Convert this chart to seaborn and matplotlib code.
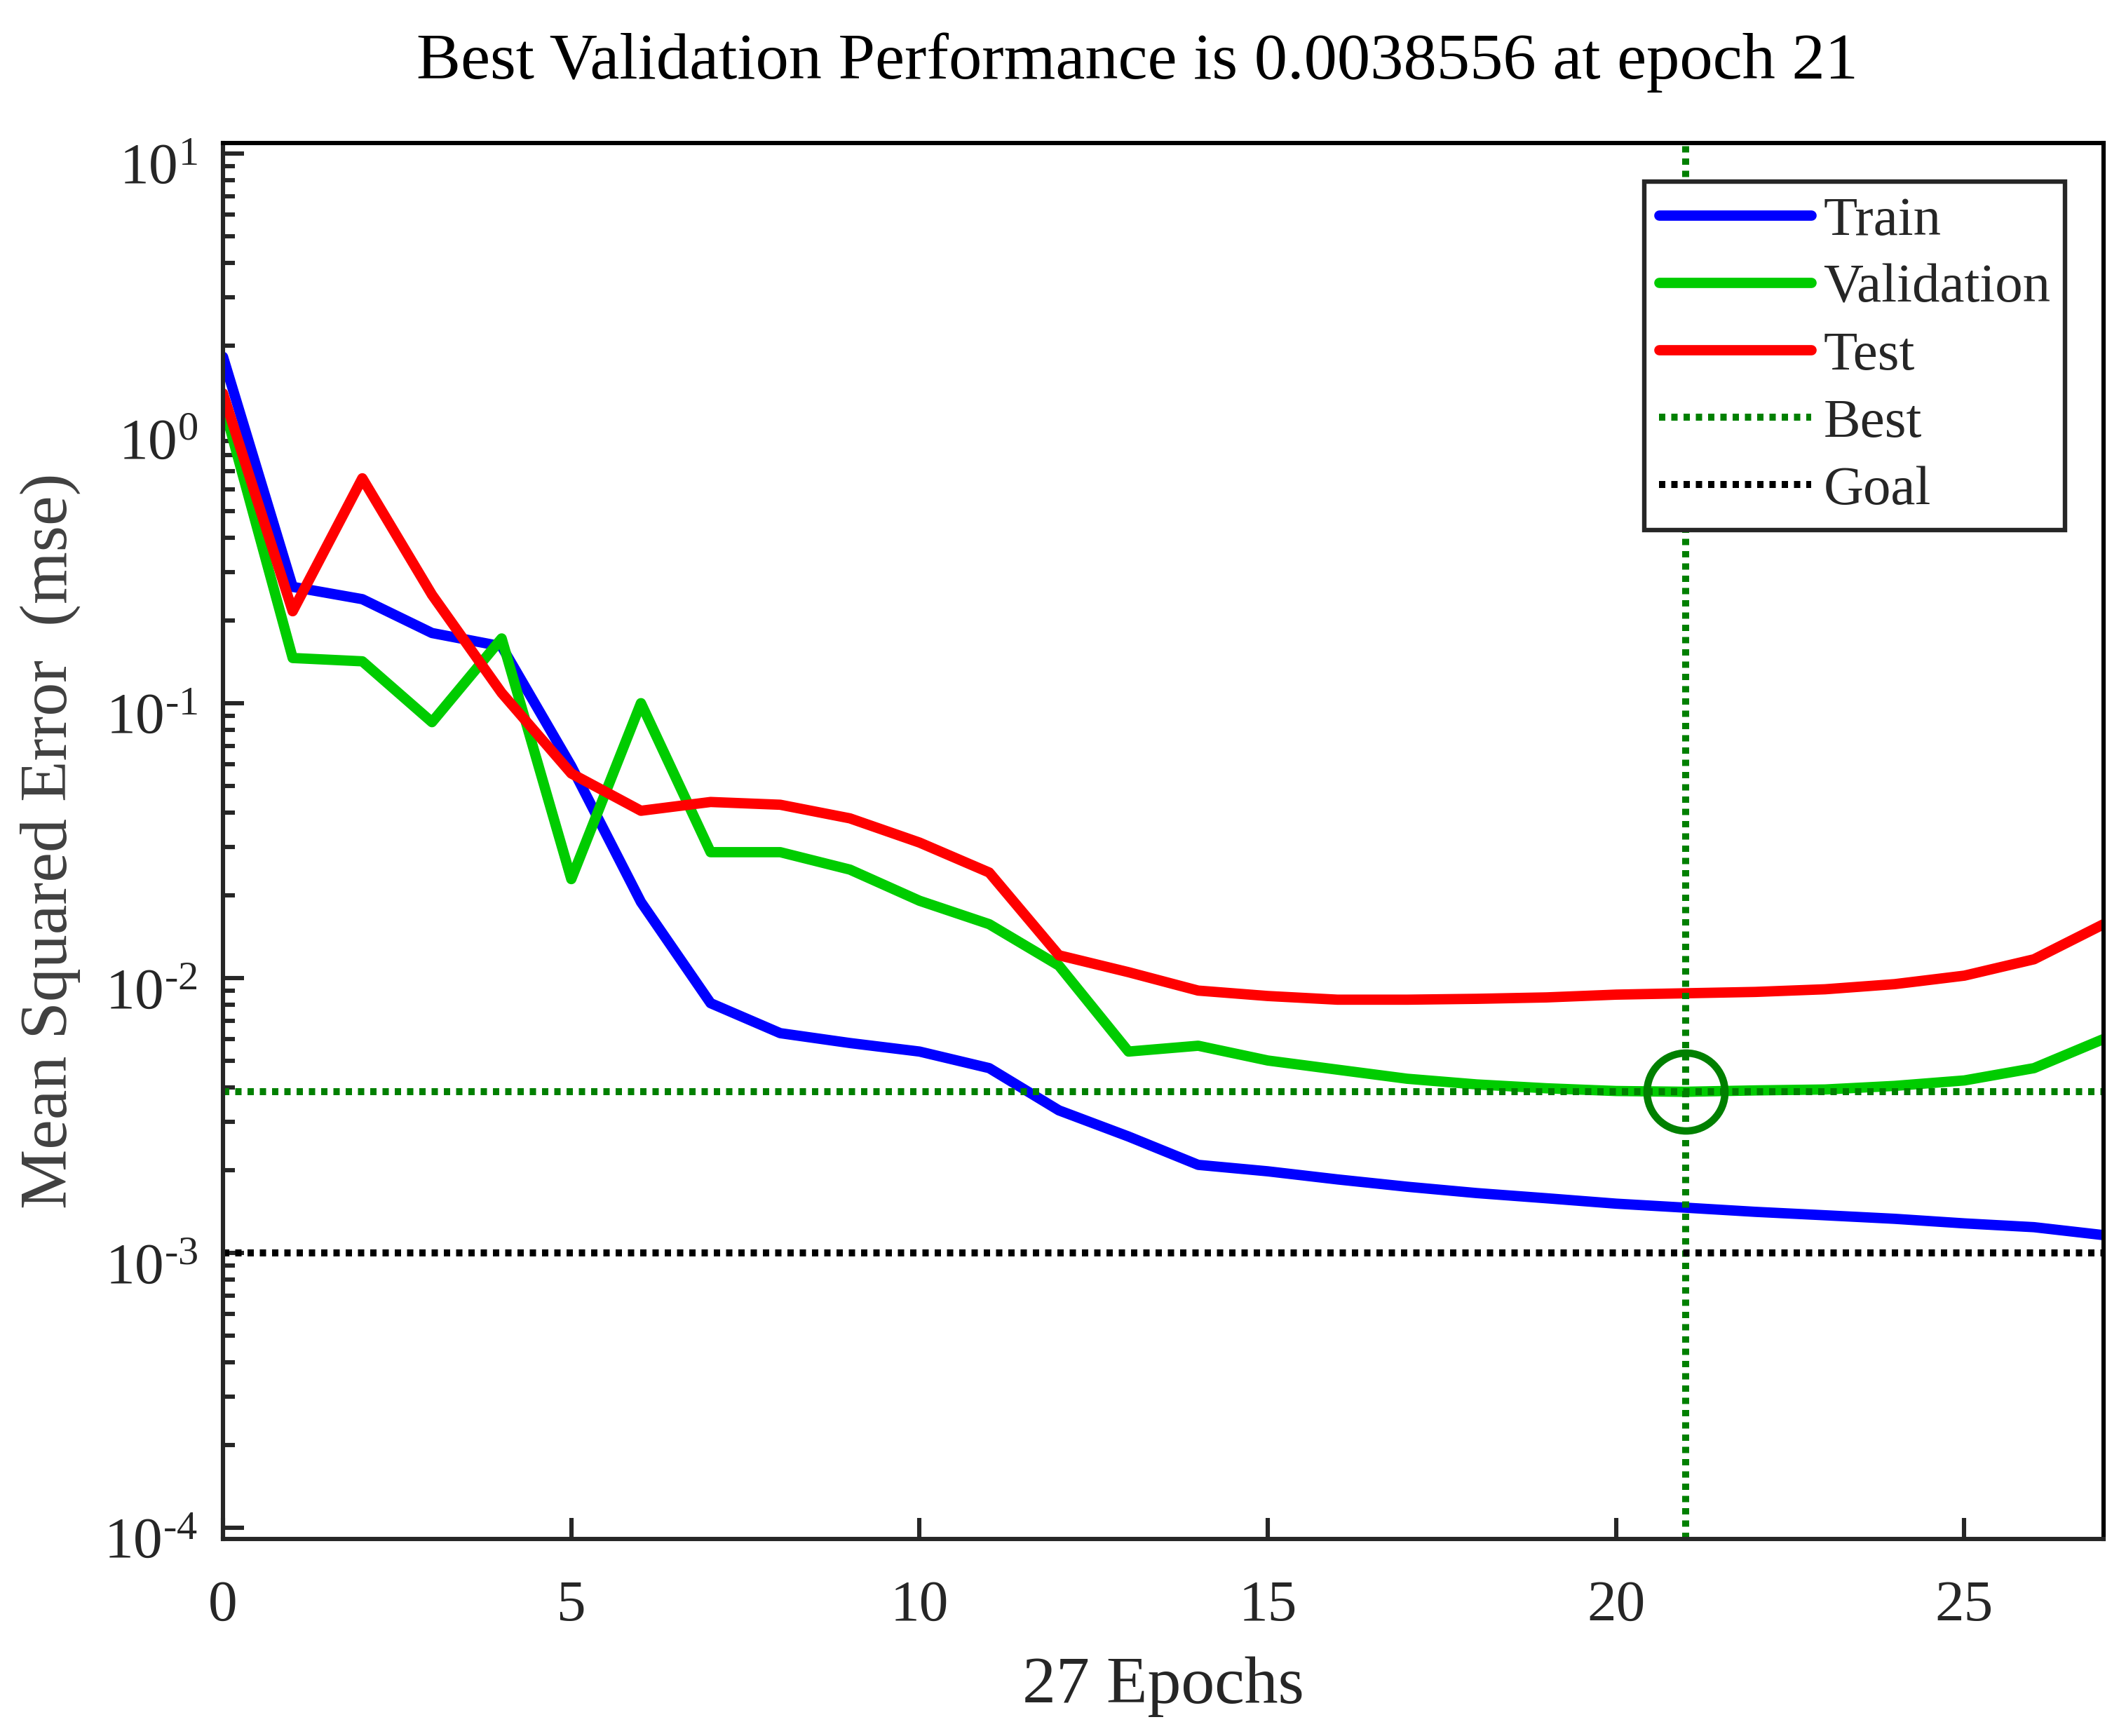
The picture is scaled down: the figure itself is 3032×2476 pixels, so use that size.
import seaborn as sns
import matplotlib.pyplot as plt
import matplotlib.ticker as mticker
import matplotlib.transforms as mtransforms
from matplotlib.lines import Line2D
import pandas as pd
import numpy as np

epochs = list(range(28))
train_mse = [1.82, 0.265, 0.239, 0.180, 0.161, 0.059, 0.0189, 0.0081, 0.0063, 0.0058,
             0.0054, 0.0047, 0.0033, 0.00265, 0.00209, 0.00198, 0.00185, 0.00174, 0.00165,
             0.00158, 0.00151, 0.00146, 0.00141, 0.00137, 0.00133, 0.00128, 0.00124, 0.00116]
val_mse = [1.24, 0.146, 0.142, 0.0853, 0.172, 0.0229, 0.1, 0.0287, 0.0287, 0.0248,
           0.0191, 0.0157, 0.0111, 0.0054, 0.00567, 0.00501, 0.00464, 0.0043, 0.0041,
           0.00397, 0.00388, 0.0038556, 0.0039, 0.00393, 0.00405, 0.00424, 0.0047, 0.0060]
test_mse = [1.34, 0.216, 0.658, 0.248, 0.109, 0.0555, 0.0406, 0.0437, 0.0427, 0.0381,
            0.0311, 0.0242, 0.0121, 0.0105, 0.0090, 0.0086, 0.00834, 0.00834, 0.0084,
            0.0085, 0.0087, 0.0088, 0.0089, 0.0091, 0.0095, 0.0102, 0.0117, 0.0157]
best_epoch = 21
best_perf = 0.0038556
goal = 1e-3
x_ticks = [0, 5, 10, 15, 20, 25]

sns.set_theme(style="ticks")
plt.rcParams["font.family"] = ["Liberation Serif", "DejaVu Serif"]
plt.rcParams["mathtext.fontset"] = "custom"
plt.rcParams["mathtext.rm"] = "Liberation Serif"
plt.rcParams["mathtext.default"] = "regular"
plt.rcParams["axes.unicode_minus"] = False

fig = plt.figure(figsize=(15.16, 12.38), dpi=200)
ax = fig.add_axes([0.1049, 0.1135, 0.8846, 0.8041])

df = pd.DataFrame({"epoch": epochs, "Train": train_mse,
                   "Validation": val_mse, "Test": test_mse})
colors = {"Train": "#0000ff", "Validation": "#00cc00", "Test": "#ff0000"}
line_w = 5.3
for name in ["Train", "Validation", "Test"]:
    sns.lineplot(data=df, x="epoch", y=name, color=colors[name], lw=line_w,
                 ax=ax, label=name, legend=False)

best_col = "#008000"
dot = (0.9, 0.85)
ax.axvline(best_epoch, color=best_col, lw=3.6, dashes=dot)
ax.axhline(best_perf, color=best_col, lw=3.6, dashes=dot)
ax.axhline(goal, color="black", lw=3.6, dashes=dot)
ax.plot([best_epoch], [best_perf], "o", mfc="none", mec=best_col, ms=40, mew=3.8)

ax.set_yscale("log")
ax.set_xlim(0, 27)
ax.set_ylim(10 ** -4.041, 10 ** 1.038)
ax.set_xticks(x_ticks)
ax.yaxis.set_major_locator(mticker.LogLocator(base=10, numticks=10))
ax.yaxis.set_minor_locator(mticker.LogLocator(base=10, subs=np.arange(2, 10), numticks=20))
ax.xaxis.set_minor_locator(mticker.NullLocator())


def log_label(v, pos):
    e = int(round(np.log10(v)))
    s = str(e).replace("-", r"\text{-}")
    return r"$10^{%s}$" % s


ax.yaxis.set_major_formatter(mticker.FuncFormatter(log_label))

ax.tick_params(axis="both", which="major", direction="in", length=10.8, width=2.2,
               labelsize=30, colors="#262626")
ax.tick_params(axis="x", which="major", pad=21)
ax.tick_params(axis="y", which="major", pad=13)
ax.tick_params(axis="y", which="minor", direction="in", length=6, width=2.2, colors="#262626")
for side, s in ax.spines.items():
    s.set_visible(True)
    s.set_linewidth(2.2)
    s.set_color("#262626" if side in ("left", "bottom") else "black")

# y labels sit a little below their ticks in the original
shift = mtransforms.ScaledTranslation(0, -5 / 72, fig.dpi_scale_trans)
for t in ax.yaxis.get_major_ticks():
    t.label1.set_transform(t.label1.get_transform() + shift)

ax.set_title("Best Validation Performance is 0.0038556 at epoch 21",
             fontsize=34, pad=33, color="black", x=0.486)
ax.set_xlabel("27 Epochs", fontsize=34.5, color="#262626", labelpad=12)
ax.set_ylabel("Mean Squared Error  (mse)", fontsize=34.5, color="#404040", labelpad=12)

handles = [
    Line2D([], [], color=colors["Train"], lw=line_w),
    Line2D([], [], color=colors["Validation"], lw=line_w),
    Line2D([], [], color=colors["Test"], lw=line_w),
    Line2D([], [], color=best_col, lw=3.6, dashes=dot),
    Line2D([], [], color="black", lw=3.6, dashes=dot),
]
leg = ax.legend(handles, ["Train", "Validation", "Test", "Best", "Goal"],
                loc="upper right", fontsize=28.4, frameon=True, fancybox=False,
                handlelength=2.75, handletextpad=0.22, labelspacing=0.3,
                borderaxespad=0.7, borderpad=0.26)
leg.get_frame().set_edgecolor("#262626")
leg.get_frame().set_linewidth(2.3)
leg.get_frame().set_alpha(1)

fig.savefig("out.png", dpi=200)
